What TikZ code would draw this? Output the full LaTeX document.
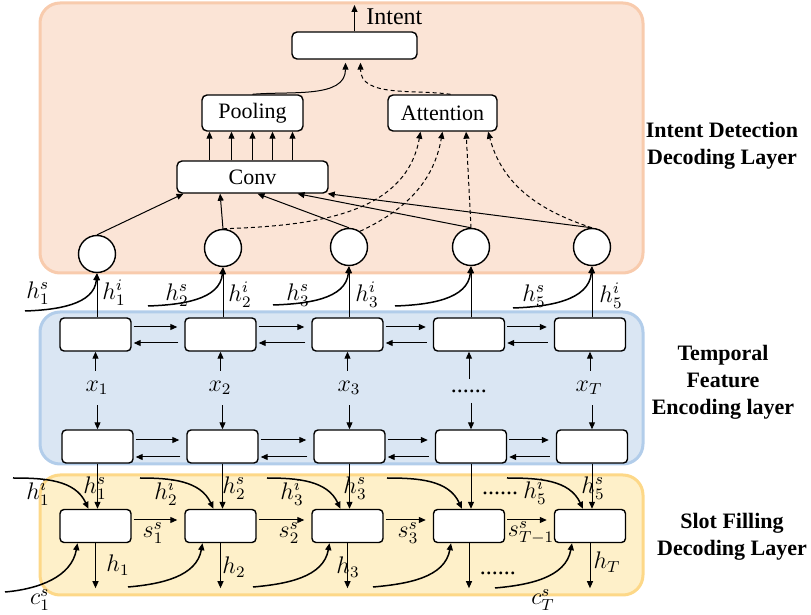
\documentclass[tikz,border=0pt]{standalone}
\usepackage{fontspec}
\setmainfont{Liberation Serif}
\usetikzlibrary{arrows.meta,calc}
\definecolor{orfill}{HTML}{FBE4D6}
\definecolor{ordraw}{HTML}{F8CBAD}
\definecolor{blfill}{HTML}{DAE6F3}
\definecolor{bldraw}{HTML}{B2CDEA}
\definecolor{yefill}{HTML}{FEF0C9}
\definecolor{yedraw}{HTML}{FDD888}
\begin{document}
\begin{tikzpicture}[x=0.5pt,y=-0.5pt,
  arr/.style={-{Triangle[length=3.5pt,width=3pt]}, line width=0.5pt},
  carr/.style={-{Triangle[length=3.5pt,width=3pt]}, line width=0.75pt},
  darr/.style={-{Triangle[length=3.5pt,width=3pt]}, line width=0.5pt, dash pattern=on 2pt off 1.5pt},
  cell/.style={draw, rounded corners=2pt, fill=white, line width=0.7pt, minimum width=35.5pt, minimum height=16.5pt, inner sep=0pt},
  tbox/.style={draw, rounded corners=2.5pt, fill=white, line width=0.7pt, inner sep=0pt, font=\fontsize{11}{13}\selectfont},
  circ/.style={circle, draw, fill=white, line width=0.7pt, minimum size=18.5pt, inner sep=0pt},
  layer/.style={rounded corners=10pt, line width=1.5pt},
  lab/.style={font=\fontsize{12}{14}\selectfont, inner sep=0pt},
  side/.style={font=\fontsize{11}{13.5}\selectfont\bfseries, align=center, inner sep=0pt}
]
\useasboundingbox (0,0) rectangle (811,615);

% layers
\draw[layer, fill=orfill, draw=ordraw] (40,3) rectangle (643,273);
\draw[layer, fill=blfill, draw=bldraw] (40,312) rectangle (643,464);
\draw[layer, fill=yefill, draw=yedraw] (40,475) rectangle (643,595);

% side labels
\node[side] (sideA) at (722,146) {Intent Detection\\Decoding Layer};
\node[side] (sideB) at (723,382) {Temporal\\Feature\\Encoding layer};
\node[side] (sideC) at (732,537) {Slot Filling\\Decoding Layer};

% intent detection part
\node[tbox, minimum width=62.5pt, minimum height=13.5pt] (top) at (354.5,45.5) {};
\node[tbox, minimum width=50.5pt, minimum height=18pt] (pool) at (252.5,113) {Pooling};
\node[tbox, minimum width=54.5pt, minimum height=18pt] (att) at (442.5,113) {Attention};
\node[tbox, minimum width=75.5pt, minimum height=16pt] (conv) at (252.5,177) {Conv};
\node[lab, anchor=west] (intent) at (366,17) {Intent};
\coordinate (ia) at (354.5,5);
\draw[arr] (top.north) -- (ia);

\draw[arr, shorten >=1.5pt] (pool.north) to[out=5,in=-90] ([xshift=-4.5pt]top.south);
\draw[darr, shorten >=1.5pt] ([xshift=4pt]att.north) to[out=172,in=-90] ([xshift=3pt]top.south);

\foreach \dx in {-21.5,-10.5,0,10,20}
  \draw[arr] ([xshift=\dx pt]conv.north) -- ([xshift=\dx pt]pool.south);

% circles
\node[circ] (c1) at (97,254) {};
\node[circ] (c2) at (223,248) {};
\node[circ] (c3) at (349,247) {};
\node[circ] (c4) at (471,247) {};
\node[circ] (c5) at (592,247) {};

\draw[arr] (c1.north) -- ([xshift=-34.5pt]conv.south);
\draw[arr] (c2.north) -- ([xshift=-16.2pt]conv.south);
\draw[arr] (c3.north) -- ([xshift=2.5pt]conv.south);
\draw[arr] (c4.north) -- ([xshift=22.5pt]conv.south);
\draw[arr] (c5.north) -- ([xshift=-0.5pt]conv.south east);

\draw[darr] (c2.north) to[out=2,in=-100] ([xshift=-11pt]att.south);
\draw[darr] (c3.55) to[out=25,in=-100] ([xshift=0pt]att.south);
\draw[darr] (c4.north) -- ([xshift=11.8pt]att.south);
\draw[darr] (c5.north) to[out=162,in=-75] ([xshift=22.8pt]att.south);

% encoder rows
\foreach \i/\x in {1/95.5,2/220.5,3/347.5,4/469,5/590}
  \node[cell] (t\i) at (\x,334.5) {};
\foreach \i/\x in {1/97.5,2/222.5,3/349.5,4/471,5/592}
  \node[cell] (b\i) at (\x,446.5) {};
\foreach \a/\b in {1/2,2/3,3/4,4/5}{
  \draw[arr] ([yshift=3.75pt,xshift=1pt]t\a.east) -- ([yshift=3.75pt,xshift=-3.5pt]t\b.west);
  \draw[arr] ([yshift=-4.25pt,xshift=-3pt]t\b.west) -- ([yshift=-4.25pt,xshift=1pt]t\a.east);
  \draw[arr] ([yshift=3.25pt,xshift=1pt]b\a.east) -- ([yshift=3.25pt,xshift=-3.5pt]b\b.west);
  \draw[arr] ([yshift=-5.25pt,xshift=-3pt]b\b.west) -- ([yshift=-5.25pt,xshift=1pt]b\a.east);
}
\node[lab, inner sep=5pt] (x1) at (97,388) {$x_1$};
\node[lab, inner sep=5pt] (x2) at (220,388) {$x_2$};
\node[lab, inner sep=5pt] (x3) at (349,388) {$x_3$};
\node[lab, inner sep=5pt] (x4) at (469,391) {......};
\node[lab, inner sep=5pt] (x5) at (589,388) {$x_T$};
\foreach \i in {1,...,5}{
  \draw[arr] (x\i.north -| t\i) -- (t\i.south);
  \draw[arr] (x\i.south -| b\i) -- (b\i.north);
}

% encoder top -> circles
\foreach \i in {1,...,5}
  \draw[arr] (c\i.south |- t\i.north) -- (c\i.south);
\coordinate (hs1) at (25,311);
\coordinate (hs2) at (148,306);
\coordinate (hs3) at (273,305);
\coordinate (hs4) at (395,306);
\coordinate (hs5) at (513,308);
\foreach \i in {1,...,5}
  \draw[carr] (hs\i) to[out=2,in=-95] (c\i.south);
\node[lab] (lhs1) at (38,293) {$h^s_1$};
\node[lab] (lhi1) at (114,293) {$h^i_1$};
\node[lab] (lhs2) at (177,295) {$h^s_2$};
\node[lab] (lhi2) at (240,295) {$h^i_2$};
\node[lab] (lhs3) at (298,295) {$h^s_3$};
\node[lab] (lhi3) at (367,295) {$h^i_3$};
\node[lab] (lhs5) at (534,296) {$h^s_5$};
\node[lab] (lhi5) at (611,296) {$h^i_5$};

% slot filling row
\foreach \i/\x in {1/95.5,2/220.5,3/347.5,4/469,5/590}
  \node[cell] (s\i) at (\x,526) {};
\foreach \a/\b in {1/2,2/3,3/4,4/5}
  \draw[arr] ([yshift=3pt,xshift=1pt]s\a.east) -- ([yshift=3pt,xshift=-3.5pt]s\b.west);
\foreach \i in {1,...,5}
  \draw[arr] (b\i.south) -- (b\i.south |- s\i.north);

\coordinate (hi1) at (13,478);
\coordinate (hi2) at (140,478);
\coordinate (hi3) at (267,478);
\coordinate (hi4) at (387,478);
\coordinate (hi5) at (507,478);
\foreach \i in {1,...,5}
  \draw[carr] (hi\i) to[out=0,in=115] ([xshift=-3.5pt]s\i.north);

\coordinate (cs1) at (5,592);
\coordinate (cs2) at (128,587);
\coordinate (cs3) at (253,587);
\coordinate (cs4) at (373,587);
\coordinate (cs5) at (495,588);
\foreach \i in {1,...,5}
  \draw[carr] (cs\i) to[out=5,in=-100] ([xshift=-9pt]s\i.south);

\foreach \i in {1,...,5}{
  \coordinate (o\i) at ($(s\i.south)+(0,45)$);
  \draw[arr] (s\i.south) -- (o\i);
}

\node[lab] (shs1) at (95,488) {$h^s_1$};
\node[lab] (shs2) at (234,488) {$h^s_2$};
\node[lab] (shs3) at (355,488) {$h^s_3$};
\node[lab] (shs5) at (593,488) {$h^s_5$};
\node[lab] (shi1) at (38,493) {$h^i_1$};
\node[lab] (shi2) at (166,493) {$h^i_2$};
\node[lab] (shi3) at (292,493) {$h^i_3$};
\node[lab] (sdots) at (500,493) {......};
\node[lab] (shi5) at (535,492) {$h^i_5$};

\node[lab] (ss1) at (153,533) {$s^s_1$};
\node[lab] (ss2) at (289,533) {$s^s_2$};
\node[lab] (ss3) at (408,533) {$s^s_3$};
\node[lab] (ss4) at (531,533) {$s^s_{T-1}$};

\node[lab] (h1) at (118,565) {$h_1$};
\node[lab] (h2) at (234,567) {$h_2$};
\node[lab] (h3) at (348,567) {$h_3$};
\node[lab] (hdots) at (498,573) {......};
\node[lab] (hT) at (607,562) {$h_T$};

\node[lab] (cl1) at (40,600) {$c^s_1$};
\node[lab] (clT) at (543,600) {$c^s_T$};
\end{tikzpicture}
\end{document}
